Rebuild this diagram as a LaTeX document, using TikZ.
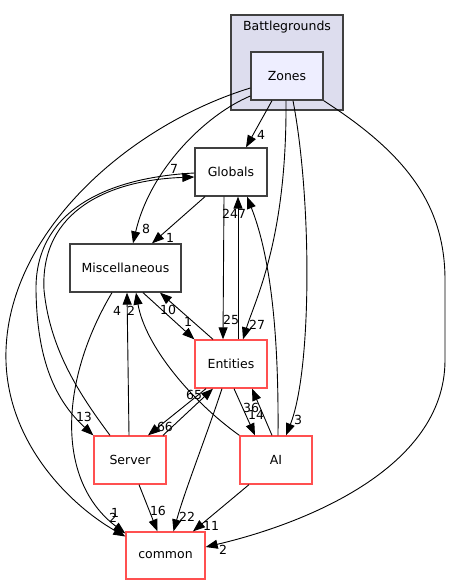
\documentclass[tikz,border=0pt]{standalone}
\usepackage{fontspec}
\setmainfont{DejaVu Sans}
\usetikzlibrary{arrows.meta,calc}
\definecolor{dirred}{RGB}{255,80,80}
\definecolor{dirgray}{RGB}{64,64,64}
\definecolor{clusterfill}{HTML}{DDDDEE}
\definecolor{zonesfill}{HTML}{EEEEFF}

\begin{document}
\begin{tikzpicture}[x=1pt,y=-1pt,
  every node/.style={font=\fontsize{12.5}{14}\selectfont,inner sep=0pt},
  dirbox/.style={draw=dirred,fill=white,minimum width=72,minimum height=48,line width=1.3},
  plainbox/.style={draw=dirgray,fill=white,minimum width=72,minimum height=48,line width=1.3},
  depline/.style={draw=black,line width=.9,-{Triangle[length=12pt,width=9pt]}},
  deplabel/.style={fill=none}]
  \useasboundingbox (0,0) rectangle (451,585);
  \node[draw=dirgray,fill=clusterfill,minimum width=112,minimum height=95,line width=1.3] (bg) at (287,62.5) {};
  \node (bgname) at (287,27) {Battlegrounds};
  \node[plainbox,fill=zonesfill] (zones) at (287,76) {Zones};
  \node[plainbox] (globals) at (231,172) {Globals};
  \node[plainbox,minimum width=111] (misc) at (125.5,268) {Miscellaneous};
  \node[dirbox] (entities) at (231,364) {Entities};
  \node[dirbox] (server) at (130,460) {Server};
  \node[dirbox] (ai) at (276,460) {AI};
  \node[dirbox,minimum width=79,minimum height=47] (common) at (165.5,555.5) {common};

  \draw[depline] ($(zones.south)+(-15,0)$) -- ($(globals.north)+(15,0)$) node[deplabel] at (261,135) {4};
  \draw[depline] ($(zones.west)+(0,20)$) .. controls (205,115) and (150,170) .. ($(misc.north)+(7.5,0)$) node[deplabel] at (146,229) {8};
  \draw[depline] ($(zones.west)+(0,12)$) .. controls (130,125) and (10,230) .. (6,350) .. controls (3,440) and (70,505) .. ($(common.west)+(0,-19)$) node[deplabel] at (113,518) {2};
  \draw[depline] ($(zones.south)+(-1,0)$) .. controls (287,240) and (255,300) .. ($(entities.north)+(12,0)$) node[deplabel] at (257,325) {27};
  \draw[depline] ($(zones.south)+(6,0)$) .. controls (312,200) and (312,370) .. ($(ai.north)+(10,0)$) node[deplabel] at (298,420) {3};
  \draw[depline] (zones.south east) .. controls (400,150) and (445,200) .. (445,280) -- (445,360) .. controls (445,470) and (300,525) .. ($(common.east)+(0,-8.5)$) node[deplabel] at (223,550) {2};

  \draw[depline] ($(globals.south)+(-26,0)$) -- ($(misc.north)+(26.5,0)$) node[deplabel] at (170,238) {1};
  \draw[depline] ($(globals.south)+(-7,0)$) -- ($(entities.north)+(-8,0)$) node[deplabel] at (231,320) {25};
  \draw[depline] ($(globals.west)+(0,1)$) .. controls (100,178) and (35,215) .. (36,290) .. controls (37,360) and (55,400) .. (server.north west) node[deplabel] at (84,417) {13};

  \draw[depline] ($(misc.south)+(17.5,0)$) -- (entities.north west) node[deplabel] at (188,322) {1};
  \draw[depline] ($(misc.south)+(-13.5,0)$) .. controls (60,380) and (55,480) .. ($(common.west)+(0,-22)$) node[deplabel] at (115,513) {1};

  \draw[depline] ($(entities.north)+(7,0)$) -- ($(globals.south)+(7,0)$) node[deplabel] at (230,214) {24};
  \draw[depline] ($(entities.north)+(-18,0)$) -- ($(misc.south)+(34.5,0)$) node[deplabel] at (168,310) {10};
  \draw[depline] ($(entities.south)+(-25,0)$) -- ($(server.north)+(18,0)$) node[deplabel] at (165,427) {66};
  \draw[depline] ($(entities.south)+(3,0)$) -- ($(ai.north)+(-21,0)$) node[deplabel] at (251,408) {36};
  \draw[depline] ($(entities.south)+(-9,0)$) .. controls (205,440) and (185,490) .. ($(common.north)+(8,0)$) node[deplabel] at (187,517) {22};

  \draw[depline] ($(server.north)+(-1,0)$) -- ($(misc.south)+(1.5,0)$) node[deplabel] at (117,311) {4};
  \draw[depline] ($(server.north)+(-20,0)$) .. controls (80,395) and (50,350) .. (44,290) .. controls (40,210) and (110,180) .. ($(globals.west)+(0,5)$) node[deplabel] at (174,169) {7};
  \draw[depline] ($(server.north)+(33,0)$) -- ($(entities.south)+(-18,0)$) node[deplabel] at (194,395) {65};
  \draw[depline] ($(server.south)+(9,0)$) -- ($(common.north)+(-8,0)$) node[deplabel] at (158,511) {16};

  \draw[depline] (ai.north west) .. controls (190,400) and (145,345) .. ($(misc.south)+(10.5,0)$) node[deplabel] at (131,311) {2};
  \draw[depline] ($(ai.north)+(2,0)$) .. controls (279,320) and (268,250) .. ($(globals.south)+(16,0)$) node[deplabel] at (242,214) {7};
  \draw[depline] ($(ai.north)+(-4,0)$) -- ($(entities.south)+(21,0)$) node[deplabel] at (256,415) {14};
  \draw[depline] ($(ai.south)+(-27,0)$) -- ($(common.north)+(27.5,0)$) node[deplabel] at (211,526) {11};
\end{tikzpicture}
\end{document}
